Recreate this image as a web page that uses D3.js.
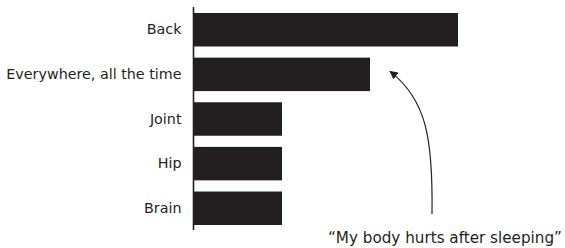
<!DOCTYPE html>
<html>
<head>
<meta charset="utf-8">
<script src="https://cdn.jsdelivr.net/npm/d3@7"></script>
<style>
  body { margin: 0; background: #fff; }
  text { font-family: "DejaVu Sans", sans-serif; fill: #231f20; }
</style>
</head>
<body>
<div id="chart"></div>
<script>
// datos
const categories = ["Back", "Everywhere, all the time", "Joint", "Hip", "Brain"]
const values = [3, 2, 1, 1, 1]
const note = "\u201cMy body hurts after sleeping\u201d"

const width = 565
const height = 248
const margin = { top: 13, right: 20, bottom: 23, left: 194 }

const svg = d3.select("#chart").append("svg").attr("width", width).attr("height", height)

const data = categories.map((c, i) => ({ cat: c, val: values[i] }))

// escalas
const x = d3.scaleLinear().domain([0, 3]).range([margin.left, margin.left + 264])
const y = d3.scaleBand().domain(categories).range([margin.top, height - margin.bottom]).paddingInner(0.25).paddingOuter(0)

// barras
svg.append("g").selectAll(".bar").data(data).enter().append("rect")
  .attr("class", "bar")
  .attr("x", x(0))
  .attr("y", d => y(d.cat))
  .attr("width", d => x(d.val) - x(0))
  .attr("height", y.bandwidth())
  .attr("fill", "#231f20")

// eje y
const yAxis = d3.axisLeft(y).tickSize(0).tickPadding(12)
const yAxisGroup = svg.append("g").attr("transform", `translate(${margin.left - 0.5},0)`).call(yAxis)
yAxisGroup.select(".domain").remove()
yAxisGroup.selectAll("text").style("font-size", "14.3px").style("font-family", "'DejaVu Sans', sans-serif").attr("fill", "#231f20")
svg.append("line")
  .attr("x1", margin.left - 0.5).attr("x2", margin.left - 0.5)
  .attr("y1", 7).attr("y2", 230)
  .attr("stroke", "#231f20").attr("stroke-width", 1.6)

// anotacion
svg.append("defs").append("marker")
  .attr("id", "head").attr("viewBox", "0 0 10 10")
  .attr("refX", 9).attr("refY", 5)
  .attr("markerWidth", 7).attr("markerHeight", 7)
  .attr("orient", "auto")
  .append("path").attr("d", "M0,0 L10,5 L0,10 Z").attr("fill", "#231f20")

const target = data[1]
const tipX = x(target.val) + 20
const tipY = y(target.cat) + y.bandwidth() / 2 - 3
svg.append("path")
  .attr("d", `M432,214 C433,140 427,100 ${tipX},${tipY}`)
  .attr("fill", "none").attr("stroke", "#231f20").attr("stroke-width", 1.2)
  .attr("marker-end", "url(#head)")

svg.append("text")
  .attr("x", 328).attr("y", 243)
  .style("font-size", "15.2px")
  .text(note)
</script>
</body>
</html>
